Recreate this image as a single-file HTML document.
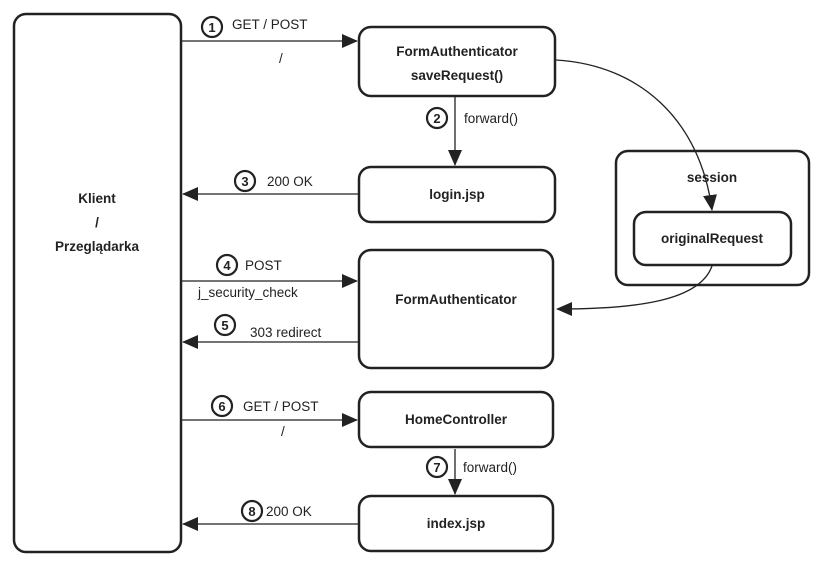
<!DOCTYPE html>
<html><head><meta charset="utf-8"><style>
html,body{margin:0;padding:0;background:#fff;}
svg{display:block;font-family:"Liberation Sans",Arial,sans-serif;}
.b{fill:#fff;stroke:#222;stroke-width:2.5;}
.l{stroke:#222;stroke-width:1.3;fill:none;}
.c{fill:#fff;stroke:#222;stroke-width:2.2;}
.n{font-size:13px;font-weight:bold;text-anchor:middle;fill:#222;}
.t{font-size:13.5px;fill:#222;}
.h{font-size:13.5px;font-weight:bold;text-anchor:middle;fill:#222;}
</style></head><body>
<svg width="825" height="567" viewBox="0 0 825 567">
<defs><marker id="A" markerWidth="16" markerHeight="16" refX="15" refY="8" orient="auto" markerUnits="userSpaceOnUse" viewBox="0 0 16 16"><path d="M0,1 L16,8 L0,15z" fill="#222"/></marker></defs>
<rect class="b" x="14" y="14" width="167" height="538" rx="12"/>
<text class="h" x="97" y="203">Klient</text>
<text class="h" x="97" y="227">/</text>
<text class="h" x="97" y="251">Przeglądarka</text>

<rect class="b" x="359" y="27" width="196" height="69" rx="12"/>
<text class="h" x="457" y="56">FormAuthenticator</text>
<text class="h" x="457" y="80">saveRequest()</text>
<rect class="b" x="359" y="167" width="196" height="55" rx="12"/>
<text class="h" x="457" y="199">login.jsp</text>
<rect class="b" x="359" y="250" width="194" height="118" rx="12"/>
<text class="h" x="456" y="304">FormAuthenticator</text>
<rect class="b" x="359" y="392" width="194" height="55" rx="12"/>
<text class="h" x="456" y="424">HomeController</text>
<rect class="b" x="359" y="496" width="194" height="55" rx="12"/>
<text class="h" x="456" y="528">index.jsp</text>
<rect class="b" x="616" y="151" width="193" height="134" rx="12"/>
<text class="h" x="712" y="182">session</text>
<rect class="b" x="634" y="212" width="157" height="53" rx="12"/>
<text class="h" x="712" y="243">originalRequest</text>

<line class="l" x1="181" y1="41" x2="357" y2="41" marker-end="url(#A)"/>
<line class="l" x1="455" y1="97" x2="455" y2="165" marker-end="url(#A)"/>
<line class="l" x1="359" y1="194" x2="183" y2="194" marker-end="url(#A)"/>
<line class="l" x1="181" y1="281" x2="357" y2="281" marker-end="url(#A)"/>
<line class="l" x1="359" y1="342" x2="183" y2="342" marker-end="url(#A)"/>
<line class="l" x1="181" y1="420" x2="357" y2="420" marker-end="url(#A)"/>
<line class="l" x1="455" y1="449" x2="455" y2="494" marker-end="url(#A)"/>
<line class="l" x1="359" y1="524" x2="183" y2="524" marker-end="url(#A)"/>
<path class="l" d="M556,60 C640,65 700,120 712,210" marker-end="url(#A)"/>
<path class="l" d="M712,266 C700,300 640,309 557,309" marker-end="url(#A)"/>

<g class="c"><circle cx="212" cy="27" r="10"/><circle cx="437" cy="118" r="10"/><circle cx="245" cy="181" r="10"/><circle cx="227" cy="265" r="10"/><circle cx="225" cy="325" r="10"/><circle cx="222" cy="406" r="10"/><circle cx="437" cy="467" r="10"/><circle cx="252" cy="511" r="10"/></g>
<g class="n"><text x="212" y="32">1</text><text x="437" y="123">2</text><text x="245" y="186">3</text><text x="227" y="270">4</text><text x="225" y="330">5</text><text x="222" y="411">6</text><text x="437" y="472">7</text><text x="252" y="516">8</text></g>
<g class="t">
<text x="232" y="29">GET / POST</text><text x="279" y="63">/</text>
<text x="464" y="123">forward()</text>
<text x="267" y="186">200 OK</text>
<text x="245" y="270">POST</text><text x="198" y="297">j_security_check</text>
<text x="250" y="337">303 redirect</text>
<text x="243" y="411">GET / POST</text><text x="281" y="436">/</text>
<text x="463" y="472">forward()</text>
<text x="266" y="516">200 OK</text>
</g>
</svg>
</body></html>
